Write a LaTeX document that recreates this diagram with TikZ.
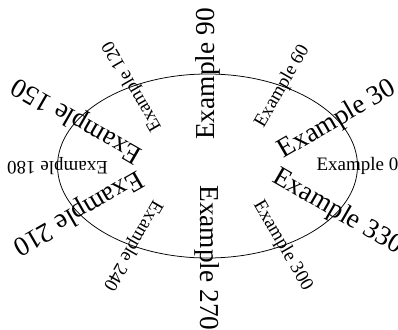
\documentclass[tikz,border=0pt]{standalone}
\usepackage{fontspec}
\setmainfont{Liberation Serif}
\usepackage{tikz}

\begin{document}
\begin{tikzpicture}[
  x=0.5262pt,y=0.5262pt,
  lbl/.style={inner sep=0pt},
  bigl/.style={lbl,font=\fontsize{14.4}{17}\selectfont},
  smalll/.style={lbl,font=\fontsize{10}{12}\selectfont}
]
\useasboundingbox (-207.5,-163) rectangle (190.5,166);
\draw (0,0) ellipse [x radius=150,y radius=92];
% labels on the ellipse, turned by their angle
\foreach \a in {0,60,...,300}
  \node[smalll,rotate=\a] (ex\a) at (\a:150 and 92) {Example \a};
\foreach \a in {30,90,...,330}
  \node[bigl,rotate=\a] (ex\a) at (\a:150 and 92) {Example \a};
\end{tikzpicture}
\end{document}
